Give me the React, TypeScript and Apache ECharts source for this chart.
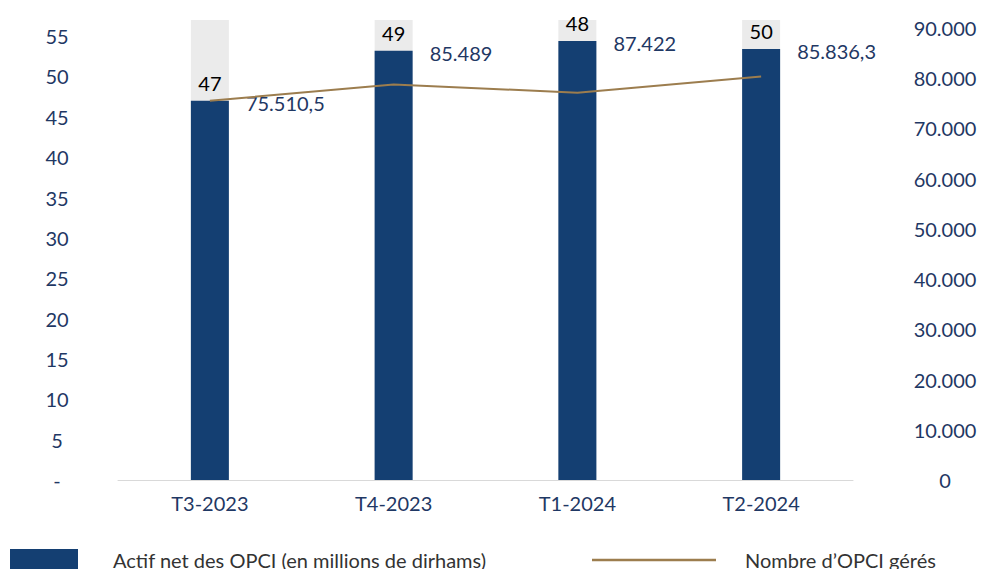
import React, { useEffect, useRef } from 'react';
import * as echarts from 'echarts';

const categories = ['T3-2023', 'T4-2023', 'T1-2024', 'T2-2024'];
const actifNet = [75510.5, 85489, 87422, 85836.3];
const nombreOpci = [47, 49, 48, 50];

const NAME_ACTIF = 'Actif net des OPCI (en millions de dirhams)';
const NAME_NOMBRE = 'Nombre d\u2019OPCI gérés';

function frNum(v: number): string {
  const [i, d] = String(v).split('.');
  const grouped = i.replace(/\B(?=(\d{3})+(?!\d))/g, '.');
  return d ? grouped + ',' + d : grouped;
}

const NAVY = '#143f72';
const TEXT_NAVY = '#1f3864';
const GOLD = '#9c7d4e';

export default function App() {
  const ref = useRef<HTMLDivElement>(null);
  useEffect(() => {
    document.body.style.margin = '0';
    if (!ref.current) return;
    const chart = echarts.init(ref.current, undefined, { renderer: 'svg' });
    chart.setOption({
      animation: false,
      textStyle: { fontFamily: 'Lato' },
      grid: { left: 118, right: 128, top: 20, bottom: 89 },
      legend: [
        {
          data: [NAME_ACTIF],
          left: 10,
          top: 549,
          padding: 0,
          itemWidth: 68,
          itemHeight: 22,
          icon: 'rect',
          textStyle: { fontSize: 20, color: '#333333', fontFamily: 'Lato', padding: [0, 0, 0, 30] },
        },
        {
          data: [NAME_NOMBRE],
          left: 592,
          top: 550,
          padding: 0,
          itemWidth: 124,
          itemHeight: 2.5,
          icon: 'rect',
          itemStyle: { color: GOLD },
          textStyle: { fontSize: 20, color: '#333333', fontFamily: 'Lato', padding: [0, 0, 0, 24] },
        },
      ],
      xAxis: {
        type: 'category',
        data: categories,
        axisLine: { show: true, lineStyle: { color: '#d9d9d9', width: 1 } },
        axisTick: { show: false },
        axisLabel: { fontSize: 20, color: TEXT_NAVY, margin: 13, fontFamily: 'Lato' },
      },
      yAxis: [
        {
          type: 'value',
          min: 0,
          max: 57,
          interval: 5,
          position: 'left',
          splitLine: { show: false },
          axisLine: { show: false },
          axisTick: { show: false },
          axisLabel: {
            showMaxLabel: false,
            fontSize: 20,
            color: TEXT_NAVY,
            align: 'center',
            margin: 61,
            fontFamily: 'Lato',
            formatter: (v: number) => (v === 0 ? '-' : String(v)),
          },
        },
        {
          type: 'value',
          min: 0,
          max: 91600,
          interval: 10000,
          position: 'right',
          splitLine: { show: false },
          axisLine: { show: false },
          axisTick: { show: false },
          axisLabel: {
            showMaxLabel: false,
            fontSize: 20,
            color: TEXT_NAVY,
            align: 'center',
            margin: 92,
            fontFamily: 'Lato',
            formatter: (v: number) => frNum(v),
          },
        },
      ],
      series: [
        {
          name: NAME_ACTIF,
          type: 'bar',
          yAxisIndex: 1,
          data: actifNet,
          barWidth: 38,
          barGap: '-100%',
          itemStyle: { color: NAVY },
          showBackground: true,
          backgroundStyle: { color: '#ebebeb' },
          label: {
            show: true,
            position: 'top',
            distance: 8,
            fontSize: 20,
            color: '#000000',
            fontFamily: 'Lato',
            formatter: (p: any) => String(nombreOpci[p.dataIndex]),
          },
          z: 2,
        },
        {
          name: 'valeurs',
          type: 'bar',
          yAxisIndex: 1,
          data: actifNet,
          barWidth: 38,
          barGap: '-100%',
          itemStyle: { color: 'rgba(0,0,0,0)' },
          label: {
            show: true,
            position: ['100%', 0],
            offset: [17, 2],
            align: 'left',
            verticalAlign: 'middle',
            fontSize: 20,
            color: TEXT_NAVY,
            fontFamily: 'Lato',
            formatter: (p: any) => frNum(p.value),
          },
          z: 3,
        },
        {
          name: NAME_NOMBRE,
          type: 'line',
          yAxisIndex: 0,
          data: nombreOpci,
          symbol: 'none',
          lineStyle: { color: GOLD, width: 2 },
          itemStyle: { color: GOLD },
          z: 4,
        },
      ],
    });
    return () => chart.dispose();
  }, []);
  return <div ref={ref} style={{ width: 981, height: 569 }} />;
}
